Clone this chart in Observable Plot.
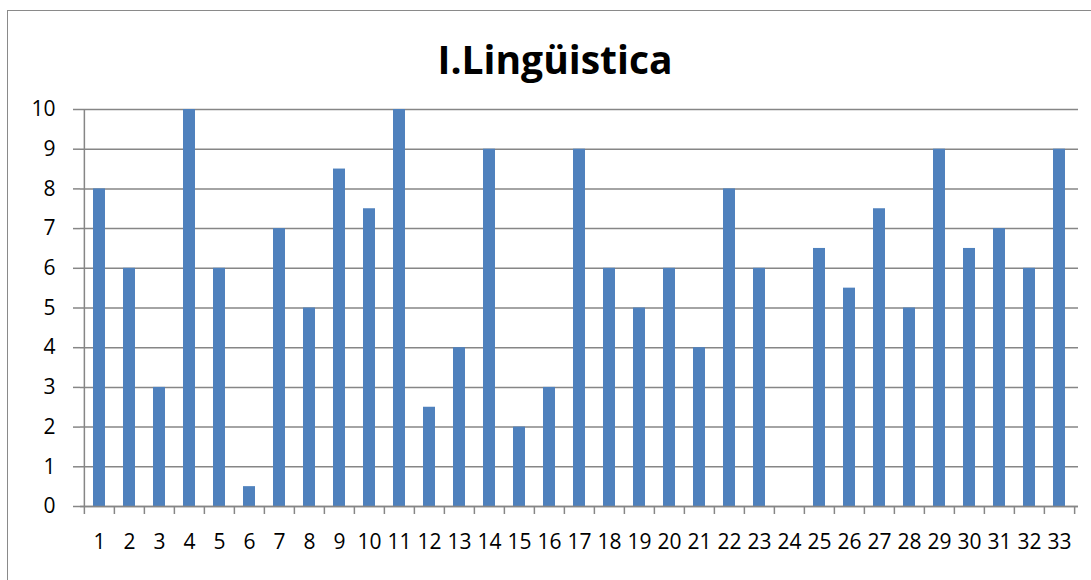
<!DOCTYPE html>
<html>
<head>
<meta charset="utf-8">
<script src="https://cdn.jsdelivr.net/npm/d3@7"></script>
<script src="https://cdn.jsdelivr.net/npm/@observablehq/plot@0.6"></script>
<style>
  html, body { margin: 0; padding: 0; background: #fff; overflow: hidden; width: 1091px; height: 580px; }
  #frame { position: absolute; left: 7px; top: 10px; width: 1200px; height: 700px; border: 1.5px solid #8a8a8a; box-sizing: border-box; }
  #title { position: absolute; left: 0; width: 1110px; top: 33px; text-align: center; font-family: "Open Sans", sans-serif; font-weight: bold; font-size: 39px; line-height: 52px; color: #000; }
  #chart { position: absolute; left: 0; top: 90px; }
</style>
</head>
<body>
<div id="frame"></div>
<div id="title">I.Lingüistica</div>
<div id="chart"></div>
<script>
const categories = ["1","2","3","4","5","6","7","8","9","10","11","12","13","14","15","16","17","18","19","20","21","22","23","24","25","26","27","28","29","30","31","32","33"];
const values = [8, 6, 3, 10, 6, 0.5, 7, 5, 8.5, 7.5, 10, 2.5, 4, 9, 2, 3, 9, 6, 5, 6, 4, 8, 6, 0, 6.5, 5.5, 7.5, 5, 9, 6.5, 7, 6, 9];
const yTicks = [0,1,2,3,4,5,6,7,8,9,10];

const data = categories.map((c, i) => ({cat: c, value: values[i]}));

const W = 1091, H = 490, mL = 80, mR = 13, mT = 19, mB = 74;
const half = (W - mL - mR) / categories.length / 2;
const grey = "#868686";

const chart = Plot.plot({
  width: W,
  height: H,
  marginLeft: mL,
  marginRight: mR,
  marginTop: mT,
  marginBottom: mB,
  style: {fontFamily: "Open Sans, sans-serif", fontSize: "21px", color: "#000", background: "transparent"},
  x: {domain: categories, paddingInner: 0.6, paddingOuter: 0.3, align: 0.5, axis: null, label: null},
  y: {domain: [0, 10], axis: null, label: null},
  marks: [
    Plot.gridY(yTicks, {stroke: grey, strokeOpacity: 1, strokeWidth: 1.5}),
    Plot.axisY({ticks: yTicks, label: null, tickSize: 7, tickPadding: 18, stroke: grey, strokeOpacity: 1, strokeWidth: 1.5, fill: "#000", tickFormat: d => String(d)}),
    Plot.barY(data, {x: "cat", y: "value", fill: "#4F81BD"}),
    Plot.ruleX([categories[0]], {dx: -half, stroke: grey, strokeWidth: 1.5}),
    Plot.ruleY([0], {stroke: grey, strokeWidth: 1.5}),
    Plot.axisX({ticks: categories, label: null, tickSize: 8, tickFormat: () => "", dx: -half, stroke: grey, strokeOpacity: 1, strokeWidth: 1.5}),
    Plot.axisX({ticks: [categories[categories.length - 1]], label: null, tickSize: 8, tickFormat: () => "", dx: half, stroke: grey, strokeOpacity: 1, strokeWidth: 1.5}),
    Plot.axisX({ticks: categories, label: null, tickSize: 0, tickPadding: 28, fill: "#000", tickFormat: d => d})
  ]
});
document.getElementById("chart").appendChild(chart);
</script>
</body>
</html>
